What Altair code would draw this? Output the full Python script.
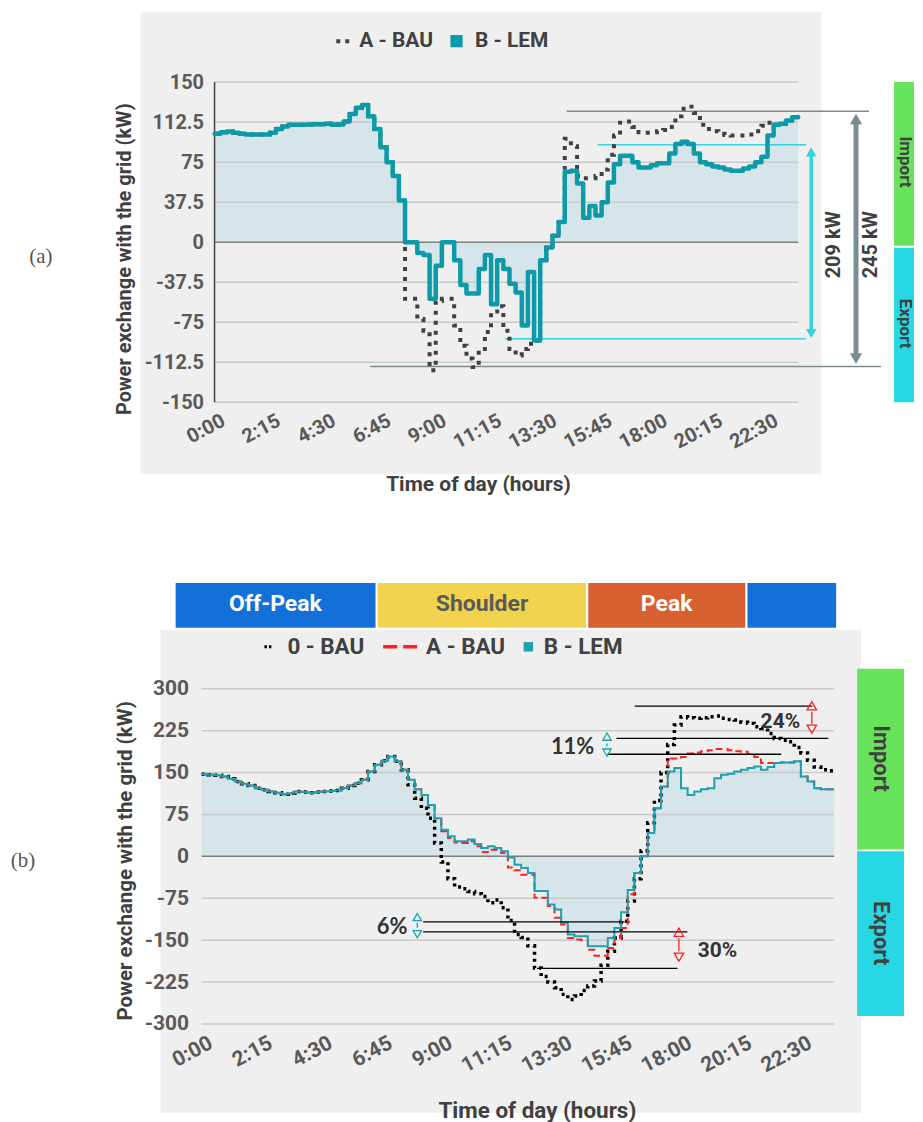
import altair as alt
import pandas as pd

# ------------------------------------------------------------------ data
times = [i * 0.25 for i in range(96)]  # 15-minute slots, hours

a_bau = [
    101.6, 103, 103.75, 102.5, 101.6, 101, 101, 101, 101, 102.5,
    106, 108.4, 110, 110, 110, 110.3, 110.6, 110.6, 111, 110,
    110.3, 113, 120, 126, 128.5, 118, 106, 89, 75, 62,
    39, -53, -53, -72, -83, -120, -55, -53, -53, -78,
    -97, -109, -117, -100, -84, -65, -60, -83, -100, -106,
    -100, -95, -92, -17, -5, 6, 19, 97, 90, 62,
    60, 60, 62, 68, 82, 100, 112, 113, 108, 103,
    102.5, 103, 104, 105, 108, 118, 125, 127, 121, 110,
    106, 104, 101.6, 100.5, 100, 100, 100, 101, 104, 109,
    112, 110, 111, 114, 117, 117]
a_lem = [
    101.6, 103, 103.75, 102.5, 101.6, 101, 101, 101, 101, 102.5,
    106, 108.4, 110, 110, 110, 110.3, 110.6, 110.6, 111, 110,
    110.3, 113, 120, 126, 128.5, 118, 106, 89, 75, 62,
    39, 0, 0, -10, -12, -53, -22, 0, 0, -17,
    -40, -48, -48, -25, -12, -58, -17, -25, -39, -47,
    -78, -28, -92, -17, -5, 6, 19, 66, 67, 55,
    23, 34, 25, 37.5, 56, 73, 81, 81, 75, 70,
    70, 72, 74, 74, 83, 92, 94, 92, 83, 75,
    73, 71, 70, 68, 67, 67, 69, 71, 75, 80,
    100, 110, 111, 114, 117, 117]

b_bau0 = [
    147, 146, 145, 143, 139, 134, 130, 127, 122, 119,
    116, 114, 111, 113, 116, 115, 114, 115, 116, 117,
    118, 122, 127, 131, 137, 152, 164, 171, 178.5, 170,
    155, 128, 104, 86, 68, 24, -10, -40, -55, -58,
    -63, -67, -72, -83, -78, -92, -115, -140, -145, -160,
    -200, -215, -225, -235, -247, -256, -250, -240, -232, -223,
    -195, -170, -146, -116, -80, -40, 10, 60, 100, 150,
    200, 235, 250, 248, 247, 248, 250, 251, 247, 245,
    244, 240, 238, 232, 229, 220, 211, 208, 205, 195,
    185, 172, 160, 155, 153, 153]
b_abau = [
    147, 146, 145, 143, 139, 134, 130, 127, 122, 119,
    116, 114, 111, 113, 116, 115, 114, 115, 116, 117,
    118, 122, 127, 131, 137, 152, 164, 171, 178.5, 170,
    155, 137, 120, 110, 92, 68, 45, 33, 25, 24,
    27, 18, 8, 12, 12, 6, -20, -25, -33, -33,
    -74, -74, -89, -110, -122, -146, -149, -150, -167, -178,
    -178, -164, -146, -128, -68, -30, 0, 42, 86, 125,
    175, 175, 178, 184, 186, 188, 190, 192, 192, 190,
    188, 187, 183, 178, 167, 167, 167, 168, 168, 170,
    143, 134, 122, 120, 120, 120]
b_lem = [
    147, 146, 145, 143, 139, 134, 130, 127, 122, 119,
    116, 114, 111, 113, 116, 115, 114, 115, 116, 117,
    118, 122, 127, 131, 137, 152, 164, 171, 178.5, 170,
    155, 137, 120, 110, 92, 68, 47.6, 36, 27, 27,
    30, 22, 15, 18, 15, 9, -2, -15, -21, -30,
    -62, -62, -86, -95, -119, -140, -143, -143, -161, -161,
    -161, -146, -128, -100, -60, -30, 0, 42, 86, 125,
    152, 158, 122, 110, 116, 120, 122, 140, 146, 148,
    152, 155, 158, 161, 155, 160, 167, 168, 168, 170,
    143, 134, 122, 120, 120, 120]

yticks_a = [-150, -112.5, -75, -37.5, 0, 37.5, 75, 112.5, 150]
yticks_b = [-300, -225, -150, -75, 0, 75, 150, 225, 300]
xticks = [0, 2.25, 4.5, 6.75, 9, 11.25, 13.5, 15.75, 18, 20.25, 22.5]
legend_a = ["A - BAU", "B - LEM"]
legend_b = ["0 - BAU", "A - BAU", "B - LEM"]
tariff_names = ["Off-Peak", "Shoulder", "Peak"]
side_names = ["Import", "Export"]
span_a = ["209 kW", "245 kW"]
pct_labels = ["6%", "11%", "24%", "30%"]

# ------------------------------------------------------------------ style
FONT = "Roboto"
DARK = "#404040"
LABEL = "#595959"
BG = "#EFEFEF"
AREA = "#D6E5E9"
GRID = "#CACACA"
ZERO = "#7F7F7F"
TEAL_A = "#0C9AA8"
TEAL_B = "#1AA2B0"
GREEN = "#66E35B"
CYAN = "#27D7E3"
SLATE = "#7A8B94"
LCYAN = "#35D3E0"
RED = "#FF2020"
BLUE = "#1270D8"
YELLOW = "#F2D34F"
ORANGE = "#D75F30"

XLBL = "floor(datum.value) + ':' + format(round((datum.value - floor(datum.value)) * 60), '02d')"
YLBL = "datum.value + ''"


def D(**cols):
    return pd.DataFrame(cols)


def axes(lab, xtit, ytit, tx, ty, ytx, yty, yvals, ypad):
    ax = alt.Axis(values=xticks, labelExpr=XLBL, title="Time of day (hours)",
                  grid=False, ticks=False, domain=False, labelAngle=-28,
                  labelAlign="right", labelBaseline="top", labelPadding=8,
                  labelOffset=4, labelFlush=False, labelOverlap=False,
                  labelFont=FONT, labelFontWeight="bold", labelFontSize=lab,
                  labelColor=LABEL, titleFont=FONT, titleFontWeight="bold",
                  titleFontSize=xtit, titleColor=DARK, titleX=tx, titleY=ty,
                  titleAlign="center", titleBaseline="middle", zindex=1)
    ay = alt.Axis(values=yvals, labelExpr=YLBL,
                  title="Power exchange with the grid (kW)", grid=False,
                  ticks=False, domain=False, labelPadding=ypad, labelFlush=False,
                  labelOverlap=False, labelFont=FONT, labelFontWeight="bold",
                  labelFontSize=lab, labelColor=LABEL, titleFont=FONT,
                  titleFontWeight="bold", titleFontSize=ytit, titleColor=DARK,
                  titleX=ytx, titleY=yty, titleAngle=270, titleAlign="center",
                  titleBaseline="middle", zindex=1)
    return ax, ay


class P:
    def __init__(self, xdom, ydom, ax, ay):
        self.sx = alt.Scale(domain=xdom, nice=False, zero=False)
        self.sy = alt.Scale(domain=ydom, nice=False, zero=False)
        self.ax, self.ay = ax, ay

    def X(self):
        return alt.X("t:Q", scale=self.sx, axis=self.ax)

    def Y(self, f="v"):
        return alt.Y(f + ":Q", scale=self.sy, axis=self.ay)

    def rect(self, d, **kw):
        return alt.Chart(d).mark_rect(**kw).encode(x=self.X(), x2="t2:Q", y=self.Y(), y2="v2:Q")

    def hrule(self, d, **kw):
        return alt.Chart(d).mark_rule(**kw).encode(x=self.X(), x2="t2:Q", y=self.Y())

    def vrule(self, d, **kw):
        return alt.Chart(d).mark_rule(**kw).encode(x=self.X(), y=self.Y(), y2="v2:Q")

    def pts(self, d, **kw):
        return alt.Chart(d).mark_point(**kw).encode(x=self.X(), y=self.Y())

    def txt(self, d, **kw):
        return alt.Chart(d).mark_text(**kw).encode(x=self.X(), y=self.Y(), text="label:N")

    def line(self, vals, **kw):
        return alt.Chart(D(t=times, v=vals)).mark_line(interpolate="step-after", **kw).encode(
            x=self.X(), y=self.Y())

    def area(self, vals, **kw):
        return alt.Chart(D(t=times, v=vals)).mark_area(interpolate="step-after", **kw).encode(
            x=self.X(), y=self.Y(), y2=alt.datum(0))


def tb(size, color=DARK, weight="bold", font=FONT, **kw):
    return dict(font=font, fontSize=size, fontWeight=weight, color=color, **kw)


# ------------------------------------------------------------------ panel (a)
# plot group starts 0.528 h left of 0:00 so both panels share the same origin
ax_a, ay_a = axes(20, 21, 20, 277, 82, -77, 177, yticks_a, -2)
A = P([-0.528, 23.75], [-150, 150], ax_a, ay_a)
grid_a = [v for v in yticks_a if v != 0]

panel_a = alt.layer(
    A.rect(D(t=[-8.363], t2=[28.46], v=[217.29], v2=[-275.23]), opacity=0),
    A.rect(D(t=[-3.004], t2=[24.683], v=[215.42], v2=[-217.29]), color=BG),
    A.area(a_lem, color=AREA),
    A.hrule(D(t=[0] * len(grid_a), t2=[23.75] * len(grid_a), v=grid_a), color=GRID, strokeWidth=1.5),
    A.hrule(D(t=[0], t2=[23.75], v=[0]), color=ZERO, strokeWidth=1.5),
    A.vrule(D(t=[0], v=[150], v2=[-150]), color=DARK, strokeWidth=1.5),
    # span guide lines
    A.hrule(D(t=[14.33, 6.333], t2=[26.63, 27.12], v=[122.6, -116.4]), color=SLATE, strokeWidth=1.5),
    A.hrule(D(t=[15.59, 11.81], t2=[24.07, 24.07], v=[91.4, -90.5]), color=LCYAN, strokeWidth=1.5),
    A.line(a_bau, color=DARK, strokeWidth=4, strokeDash=[4, 6], strokeCap="butt"),
    A.line(a_lem, color=TEAL_A, strokeWidth=4.5, strokeJoin="round", strokeCap="round"),
    # double arrows
    A.vrule(D(t=[24.277], v=[84.6], v2=[-85.5]), color=LCYAN, strokeWidth=3.5),
    A.pts(D(t=[24.277], v=[84.6]), shape="triangle-up", filled=True, size=110, color=LCYAN, opacity=1),
    A.pts(D(t=[24.277], v=[-85.5]), shape="triangle-down", filled=True, size=110, color=LCYAN, opacity=1),
    A.vrule(D(t=[26.10], v=[115.4], v2=[-109.0]), color=SLATE, strokeWidth=5),
    A.pts(D(t=[26.10], v=[115.4]), shape="triangle-up", filled=True, size=150, color=SLATE, opacity=1),
    A.pts(D(t=[26.10], v=[-109.0]), shape="triangle-down", filled=True, size=150, color=SLATE, opacity=1),
    A.txt(D(t=[25.21, 26.71], v=[-2.3, -2.3], label=span_a), angle=270, align="center",
          baseline="middle", **tb(20)),
    # legend
    A.hrule(D(t=[4.953], t2=[5.521], v=[188.3]), color=DARK, strokeWidth=4, strokeDash=[4, 5]),
    A.pts(D(t=[9.845], v=[188.3]), shape="square", filled=True, size=150, color=TEAL_A, opacity=1),
    A.txt(D(t=[5.887, 10.596], v=[188.3, 188.3], label=legend_a), align="left",
          baseline="middle", **tb(21)),
    # import / export boxes
    A.rect(D(t=[27.647], t2=[28.46], v=[150], v2=[-3.27]), color=GREEN),
    A.rect(D(t=[27.647], t2=[28.46], v=[-5.14], v2=[-150]), color=CYAN),
    A.txt(D(t=[28.09, 28.09], v=[75.2, -76.2], label=side_names), angle=90, align="center",
          baseline="middle", **tb(17)),
    A.txt(D(t=[-7.064], v=[-13.55], label=["(a)"]), align="center", baseline="middle",
          **tb(21, color="#555555", weight="normal", font="Liberation Serif")),
).properties(width=598, height=321)

# ------------------------------------------------------------------ panel (b)
ax_b, ay_b = axes(21, 22.5, 20.5, 336, 87, -76, 172, yticks_b, 13)
B = P([0, 23.75], [-300, 300], ax_b, ay_b)
grid_b = [v for v in yticks_b if v != 0]

panel_b = alt.layer(
    B.rect(D(t=[-7.23], t2=[26.75], v=[571.43], v2=[-458.9]), opacity=0),
    B.rect(D(t=[-1.536], t2=[24.761], v=[405.36], v2=[-458.9]), color=BG),
    # tariff bar
    B.rect(D(t=[-1.011, 20.45], t2=[6.575, 23.862], v=[491.07] * 2, v2=[407.14] * 2),
           color=BLUE, stroke="white", strokeWidth=2),
    B.rect(D(t=[6.575], t2=[14.48], v=[491.07], v2=[407.14]), color=YELLOW, stroke="white", strokeWidth=2),
    B.rect(D(t=[14.48], t2=[20.45], v=[491.07], v2=[407.14]), color=ORANGE, stroke="white", strokeWidth=2),
    B.txt(D(t=[2.77, 17.46], v=[451.8, 451.8], label=[tariff_names[0], tariff_names[2]]),
          align="center", baseline="middle", **tb(23, color="white")),
    B.txt(D(t=[10.53], v=[451.8], label=[tariff_names[1]]), align="center",
          baseline="middle", **tb(23, color="#5A5A5A")),
    B.area(b_lem, color=AREA),
    B.hrule(D(t=[0] * len(grid_b), t2=[23.75] * len(grid_b), v=grid_b), color=GRID, strokeWidth=1.5),
    B.hrule(D(t=[0], t2=[23.75], v=[0]), color=ZERO, strokeWidth=1.5),
    B.line(b_bau0, color="#000000", strokeWidth=3.5, strokeDash=[3, 4], strokeCap="butt"),
    B.line(b_abau, color=RED, strokeWidth=2, strokeDash=[7, 4]),
    B.line(b_lem, color=TEAL_B, strokeWidth=2),
    # reference lines
    B.hrule(D(t=[16.26, 15.58, 15.25, 8.32, 8.32, 12.59],
              t2=[22.93, 23.53, 21.76, 15.88, 18.24, 17.87],
              v=[269, 211.3, 182.7, -117.3, -135.1, -200.6]), color="#000000", strokeWidth=1.3),
    # hollow double arrows
    B.vrule(D(t=[8.10, 15.22], v=[-119, 201.8], v2=[-127.9, 196.4]), color=TEAL_B, strokeWidth=1.3),
    B.pts(D(t=[8.10, 15.22], v=[-108.6, 214.3]), shape="triangle-up", filled=False, size=70,
          color=TEAL_B, strokeWidth=1.3, opacity=1),
    B.pts(D(t=[8.10, 15.22], v=[-139.3, 185.7]), shape="triangle-down", filled=False, size=70,
          color=TEAL_B, strokeWidth=1.3, opacity=1),
    B.vrule(D(t=[22.91, 17.92], v=[258.9, -146.4], v2=[237.5, -169.6]), color=RED, strokeWidth=1.3),
    B.pts(D(t=[22.91, 17.92], v=[269.6, -135.7]), shape="triangle-up", filled=False, size=90,
          color=RED, strokeWidth=1.3, opacity=1),
    B.pts(D(t=[22.91, 17.92], v=[227.7, -180.4]), shape="triangle-down", filled=False, size=90,
          color=RED, strokeWidth=1.3, opacity=1),
    B.txt(D(t=[7.155, 13.93], v=[-126.8, 196.4], label=pct_labels[:2]), align="center",
          baseline="middle", **tb(22, color="#333333", font="Lato")),
    B.txt(D(t=[21.73, 19.37], v=[241, -169.6], label=pct_labels[2:]), align="center",
          baseline="middle", **tb(21, color="#333333")),
    # legend
    B.hrule(D(t=[2.36], t2=[2.62], v=[375]), color="#000000", strokeWidth=3, strokeDash=[2.5, 2]),
    B.hrule(D(t=[6.818], t2=[8.092], v=[375]), color=RED, strokeWidth=3.5, strokeDash=[14, 6]),
    B.pts(D(t=[12.268], v=[375]), shape="square", filled=True, size=90, color=TEAL_B, opacity=1),
    B.txt(D(t=[3.222, 8.429, 12.849], v=[375] * 3, label=legend_b), align="left",
          baseline="middle", **tb(22.5)),
    # import / export boxes
    B.rect(D(t=[24.611], t2=[26.372], v=[335.7], v2=[12.5]), color=GREEN),
    B.rect(D(t=[24.611], t2=[26.372], v=[8.93], v2=[-285.7]), color=CYAN),
    B.txt(D(t=[25.51, 25.51], v=[175, -137.5], label=side_names), angle=90, align="center",
          baseline="middle", **tb(22)),
    B.txt(D(t=[-6.705], v=[-8.9], label=["(b)"]), align="center", baseline="middle",
          **tb(21, color="#555555", weight="normal", font="Liberation Serif")),
).properties(width=634, height=336)

chart = alt.vconcat(panel_a, panel_b, spacing=0).properties(
    padding=0, background="white").configure_view(strokeWidth=0)

chart.save("out.html", embed_options={"renderer": "svg", "actions": False})
